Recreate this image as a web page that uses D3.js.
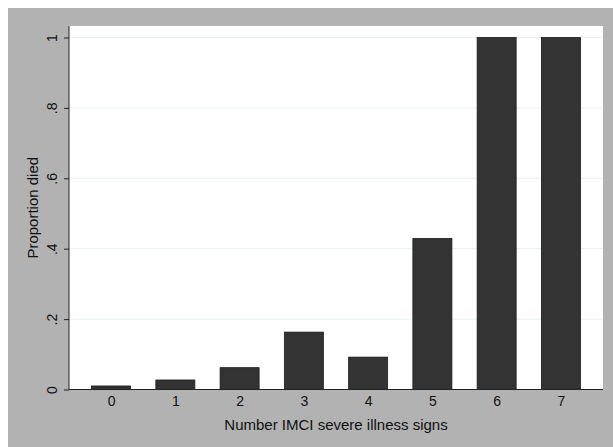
<!DOCTYPE html>
<html>
<head>
<meta charset="utf-8">
<script src="https://cdn.jsdelivr.net/npm/d3@7"></script>
<style>
  body { margin: 0; background: #fff; }
  text { font-family: "Liberation Sans", Arial, Helvetica, sans-serif; fill: #111; }
</style>
</head>
<body>
<div id="chart"></div>
<script>
// number of IMCI severe illness signs
const signs = [0, 1, 2, 3, 4, 5, 6, 7];
// proportion of children who died
const propDied = [0.01, 0.027, 0.062, 0.163, 0.092, 0.429, 1, 1];
const yTicks = [0, 0.2, 0.4, 0.6, 0.8, 1];
const yTickLabels = ["0", ".2", ".4", ".6", ".8", "1"];

const W = 613, H = 447;
const plot = { left: 69, right: 603, top: 26, bottom: 389.5 };

const svg = d3.select("#chart").append("svg")
    .attr("width", W)
    .attr("height", H);

// gray graph region
svg.append("rect")
    .attr("x", 8).attr("y", 8)
    .attr("width", W - 8).attr("height", H - 8)
    .attr("fill", "#b2b2b2");

// white plot region
svg.append("rect")
    .attr("x", plot.left).attr("y", plot.top)
    .attr("width", plot.right - plot.left).attr("height", plot.bottom - plot.top)
    .attr("fill", "#fff");

const x = d3.scaleLinear()
    .domain([-0.655, 7.655])
    .range([plot.left, plot.right]);

const y = d3.scaleLinear()
    .domain([0, 1])
    .range([plot.bottom, 37.5]);

// gridlines
svg.append("g")
  .selectAll("line")
  .data(yTicks.filter(d => d > 0))
  .enter().append("line")
    .attr("x1", plot.left).attr("x2", plot.right)
    .attr("y1", d => y(d)).attr("y2", d => y(d))
    .attr("stroke", "#e8f0f1")
    .attr("stroke-width", 1);

// bars
const bw = 0.607;
svg.append("g")
  .selectAll("rect")
  .data(signs)
  .enter().append("rect")
    .attr("x", (d) => x(d - bw / 2))
    .attr("width", x(bw) - x(0))
    .attr("y", (d, i) => y(propDied[i]))
    .attr("height", (d, i) => y(0) - y(propDied[i]))
    .attr("fill", "#333333")
    .attr("stroke", "#1a1a1a")
    .attr("stroke-width", 0.8);

// y axis
const yAxis = d3.axisLeft(y)
    .tickValues(yTicks)
    .tickSize(5)
    .tickFormat((d, i) => yTickLabels[i]);

const gy = svg.append("g")
    .attr("transform", "translate(" + plot.left + ",0)")
    .call(yAxis);
gy.select(".domain").attr("d", "M0," + plot.top + "V" + plot.bottom).attr("stroke", "#222");
gy.selectAll(".tick line").attr("stroke", "#222");
gy.selectAll(".tick text")
    .attr("x", 0)
    .attr("dx", 0)
    .attr("transform", "translate(-10,0) rotate(-90)")
    .attr("dy", "-0.15em")
    .attr("text-anchor", "middle")
    .style("font-size", "14px");

// x axis
const xAxis = d3.axisBottom(x)
    .tickValues(signs)
    .tickSize(0)
    .tickPadding(7)
    .tickFormat(d3.format("d"));

const gx = svg.append("g")
    .attr("transform", "translate(0," + plot.bottom + ")")
    .call(xAxis);
gx.select(".domain").attr("d", "M" + plot.left + ",0H" + plot.right).attr("stroke", "#222");
gx.selectAll(".tick text").style("font-size", "14px");

// axis titles
svg.append("text")
    .attr("x", (plot.left + plot.right) / 2)
    .attr("y", 429.5)
    .attr("text-anchor", "middle")
    .style("font-size", "15px")
    .text("Number IMCI severe illness signs");

svg.append("text")
    .attr("transform", "translate(38," + ((plot.top + plot.bottom) / 2) + ") rotate(-90)")
    .attr("text-anchor", "middle")
    .style("font-size", "15px")
    .text("Proportion died");
</script>
</body>
</html>
